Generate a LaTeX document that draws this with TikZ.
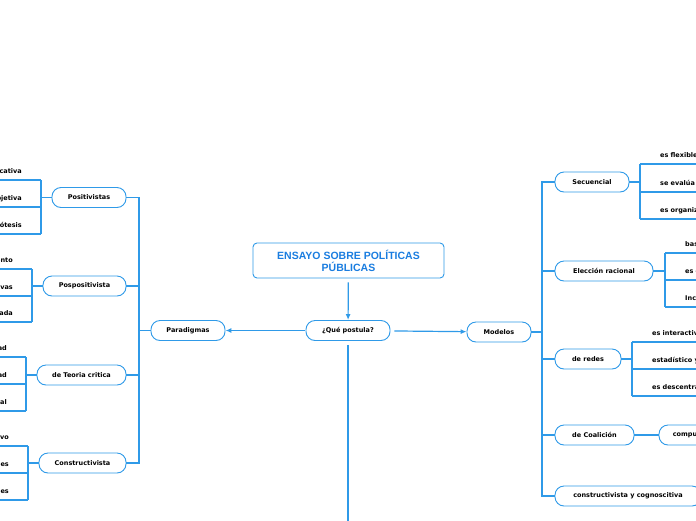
\documentclass[tikz,border=0pt]{standalone}
\usepackage{fontspec}
\setmainfont{DejaVu Sans}
\newfontfamily\titlefont{Liberation Sans}
\usetikzlibrary{arrows.meta}

\definecolor{mapblue}{HTML}{2F9AE8}
\definecolor{titleblue}{HTML}{1A7DE0}

\tikzset{
  topic/.style = {draw = mapblue, line width = 0.9pt, rounded corners = 9pt,
    fill = white, minimum height = 20pt, inner sep = 0pt,
    font = \fontsize{6.5}{7}\selectfont\bfseries},
  leafL/.style = {anchor = south east, text width = 140pt, align = right,
    inner xsep = 19pt, inner ysep = 5pt, text height = 5pt, text depth = 1.5pt,
    font = \fontsize{6.5}{7}\selectfont\bfseries},
  leafR/.style = {anchor = south west, text width = 140pt, align = left,
    inner xsep = 20pt, inner ysep = 5pt, text height = 5pt, text depth = 1.5pt,
    font = \fontsize{6.5}{7}\selectfont\bfseries},
  link/.style = {draw = mapblue, line width = 1.2pt},
  under/.style = {draw = mapblue, line width = 1.4pt},
}

\begin{document}
\begin{tikzpicture}[x = 1pt, y = -1pt]
            \useasboundingbox (0,0) rectangle (696,520);
            \fill [white] (0,0) rectangle (696,520);
            \clip (0,0) rectangle (696,520);

            % centre
            \node [draw = mapblue, line width = 0.9pt, rounded corners = 4pt,
                   minimum width = 191pt, minimum height = 35pt, align = center,
                   text = titleblue, font = \titlefont\fontsize{10.5}{12}\selectfont\bfseries]
                  (title) at (348.5,260.5) {ENSAYO SOBRE POLÍTICAS\\PÚBLICAS};
            \node [topic, minimum width = 84pt] (que) at (348,330.5) {¿Qué postula?};
            \node [topic, minimum width = 74pt] (para) at (188,330.5) {Paradigmas};
            \node [topic, minimum width = 64pt] (mod) at (499,332) {Modelos};
            \coordinate (down) at (348,530);

            \draw [link, shorten <= 4pt, -{Latex[length = 6pt, width = 5pt]}] (title) -- (que);
            \draw [link, shorten <= 1pt, -{Latex[length = 6pt, width = 5pt]}] (que) -- (para);
            \draw [link, shorten <= 4pt, -{Latex[length = 6pt, width = 5pt]}] (que) -- (mod);
            \draw [link, shorten <= 4pt] (que) -- (down);

            % paradigmas
            \node [topic, minimum width = 74pt] (posit) at (89,197.5) {Positivistas};
            \node [topic, minimum width = 83pt] (pospo) at (84.5,286) {Pospositivista};
            \node [topic, minimum width = 89pt] (teoria) at (81.5,375) {de Teoria critica};
            \node [topic, minimum width = 87pt] (constr) at (82.5,463) {Constructivista};
            \coordinate (pb) at (139,330.5);
            \draw [link] (para.west) -- (pb);
            \foreach \n in {posit, pospo, teoria, constr}
                \draw [link] (\n.east) -| (pb);

            \node [leafL] (posA) at (41,180) {explicativa};
            \node [leafL] (posB) at (41,207) {objetiva};
            \node [leafL] (posC) at (41,234) {hipótesis};

            \node [leafL] (ppA) at (32,269) {conocimiento};
            \node [leafL] (ppB) at (32,296) {perspectivas};
            \node [leafL] (ppC) at (32,322) {verdad aproximada};

            \node [leafL] (tcA) at (26,357) {realidad};
            \node [leafL] (tcB) at (26,384) {subjetividad};
            \node [leafL] (tcC) at (26,411) {cambio social};

            \node [leafL] (coA) at (28,446) {relativo};
            \node [leafL] (coB) at (28,473) {múltiples realidades};
            \node [leafL] (coC) at (28,500) {construcciones sociales};

            \draw [link] (posit.west) -- (posit.west -| posA.south east);
            \draw [link] (pospo.west) -- (pospo.west -| ppA.south east);
            \draw [link] (teoria.west) -- (teoria.west -| tcA.south east);
            \draw [link] (constr.west) -- (constr.west -| coA.south east);
            \draw [under] (posA.south east) -- (posC.south east);
            \draw [under] (ppA.south east) -- (ppC.south east);
            \draw [under] (tcA.south east) -- (tcC.south east);
            \draw [under] (coA.south east) -- (coC.south east);

            % modelos
            \node [topic, minimum width = 74pt] (sec) at (592,182) {Secuencial};
            \node [topic, minimum width = 98pt] (elec) at (604,271) {Elección racional};
            \node [topic, minimum width = 66pt] (redes) at (588,359) {de redes};
            \node [topic, minimum width = 79pt] (coal) at (594.5,435) {de Coalición};
            \node [topic, minimum width = 146pt] (cogn) at (628,496) {constructivista y cognoscitiva};
            \node [topic, minimum width = 112pt] (comp) at (715,435) {compuesto por actores};
            \coordinate (mb) at (542,332);
            \draw [link] (mod.east) -- (mb);
            \foreach \n in {sec, elec, redes, coal, cogn}
                \draw [link] (\n.west) -| (mb);
            \draw [link] (coal.east) -- (comp.west);

            \node [leafR] (seA) at (640,164) {es flexible};
            \node [leafR] (seB) at (640,192) {se evalúa constantemente};
            \node [leafR] (seC) at (640,219) {es organizado};

            \node [leafR] (erA) at (665,253) {basada en la razón};
            \node [leafR] (erB) at (665,280) {es eficiente};
            \node [leafR] (erC) at (665,307) {Incremental};

            \node [leafR] (reA) at (632,342) {es interactivo};
            \node [leafR] (reB) at (632,369) {estadístico y dinámico};
            \node [leafR] (reC) at (632,396) {es descentralizado};

            \draw [link] (sec.east) -- (sec.east -| seA.south west);
            \draw [link] (elec.east) -- (elec.east -| erA.south west);
            \draw [link] (redes.east) -- (redes.east -| reA.south west);
            \draw [under] (seA.south west) -- (seC.south west);
            \draw [under] (erA.south west) -- (erC.south west);
            \draw [under] (reA.south west) -- (reC.south west);

            % leaf lines
            \foreach \n in {posA, posB, posC, ppA, ppB, ppC, tcA, tcB, tcC, coA, coB, coC,
                            seA, seB, seC, erA, erB, erC, reA, reB, reC}
                \draw [under] (\n.south west) -- (\n.south east);
        \end{tikzpicture}
\end{document}
